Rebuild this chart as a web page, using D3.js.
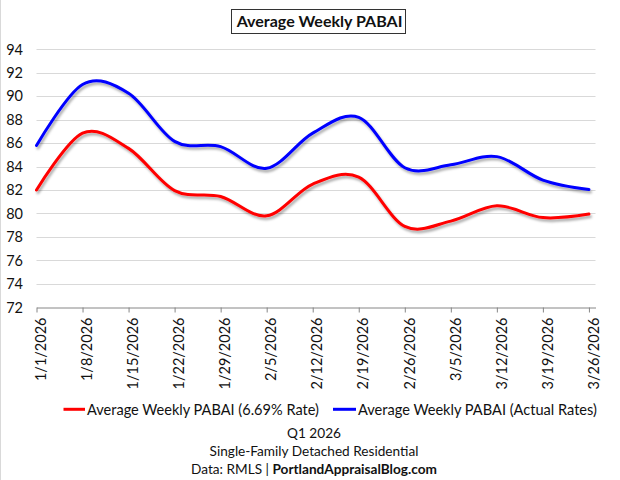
<!DOCTYPE html>
<html>
<head>
<meta charset="utf-8">
<script src="https://cdn.jsdelivr.net/npm/d3@7"></script>
<style>
  html, body { margin: 0; padding: 0; background: #fff; }
  svg { display: block; }
  text { font-family: Lato, "Open Sans", sans-serif; fill: #111; }
</style>
</head>
<body>
<svg id="chart" width="620" height="480"></svg>
<script>
// ---- data ----
const titleText = "Average Weekly PABAI";
const categories = ["1/1/2026","1/8/2026","1/15/2026","1/22/2026","1/29/2026","2/5/2026","2/12/2026","2/19/2026","2/26/2026","3/5/2026","3/12/2026","3/19/2026","3/26/2026"];
const seriesNames = ["Average Weekly PABAI (6.69% Rate)", "Average Weekly PABAI (Actual Rates)"];
const rateValues   = [82.0, 86.85, 85.55, 81.95, 81.45, 79.8, 82.5, 83.1, 78.9, 79.35, 80.65, 79.65, 79.95];
const actualValues = [85.8, 91.0, 90.25, 86.15, 85.7, 83.85, 86.85, 88.2, 83.9, 84.15, 84.85, 82.85, 82.05];
const seriesColors = ["#ff0000", "#0000ff"];
const yTicks = [72,74,76,78,80,82,84,86,88,90,92,94];
const footerLines = ["Q1 2026", "Single-Family Detached Residential"];
const footerData = ["Data: RMLS | ", "PortlandAppraisalBlog.com"];

const parse = d3.timeParse("%m/%d/%Y");
const dates = categories.map(parse);

const svg = d3.select("#chart");

// left frame edge
svg.append("line").attr("x1",0.5).attr("x2",0.5).attr("y1",0).attr("y2",480)
  .attr("stroke","#d9d9d9").attr("stroke-width",1);

const x = d3.scaleTime()
  .domain([parse("1/1/2026"), parse("3/27/2026")])
  .range([36.5, 595.5]);
const y = d3.scaleLinear().domain([72, 94]).range([307.3, 49.3]);

// shadow filter
const defs = svg.append("defs");
const f = defs.append("filter").attr("id","shadow")
  .attr("x","-5%").attr("y","-20%").attr("width","110%").attr("height","140%");
f.append("feDropShadow").attr("dx",1.5).attr("dy",2.5).attr("stdDeviation",1.3)
  .attr("flood-color","#000").attr("flood-opacity",0.33);

// gridlines
svg.append("g").selectAll("line").data(yTicks.filter(t => t !== 72)).join("line")
  .attr("x1", x.range()[0]).attr("x2", x.range()[1])
  .attr("y1", d => Math.round(y(d)) + 0.5).attr("y2", d => Math.round(y(d)) + 0.5)
  .attr("stroke", "#d9d9d9").attr("stroke-width", 1);

// y labels
svg.append("g").selectAll("text").data(yTicks).join("text")
  .attr("x", 23).attr("y", d => y(d)).attr("dy", "0.36em")
  .attr("text-anchor", "end").attr("font-size", 14.5)
  .text(d => d);

// x axis
const xAxis = d3.axisBottom(x).tickValues(dates).tickSize(5).tickSizeOuter(0)
  .tickFormat((d, i) => categories[i]);
const gx = svg.append("g").attr("transform", "translate(0," + (Math.round(y(72)) + 0.5) + ")").call(xAxis);
gx.select(".domain").attr("stroke", "#868686").attr("stroke-width", 1);
gx.selectAll(".tick line").attr("stroke", "#868686");
gx.selectAll(".tick text")
  .attr("font-family", "Lato, 'Open Sans', sans-serif")
  .attr("font-size", 14.5).attr("fill", "#111")
  .attr("text-anchor", "end")
  .attr("transform", "translate(4,0) rotate(-90)")
  .attr("x", -10).attr("y", 0).attr("dy", "0.36em");

// lines
const line = d3.line()
  .x((d, i) => x(dates[i]))
  .y(d => y(d))
  .curve(d3.curveCardinal.tension(0));

[rateValues, actualValues].forEach((vals, k) => {
  svg.append("path").datum(vals)
    .attr("d", line)
    .attr("fill", "none")
    .attr("stroke", seriesColors[k])
    .attr("stroke-width", 3)
    .attr("stroke-linecap", "round")
    .attr("stroke-linejoin", "round")
    .attr("filter", "url(#shadow)");
});

// title with box
const title = svg.append("text").attr("x", 319.5).attr("y", 21).attr("dy", "0.36em")
  .attr("text-anchor", "middle").attr("font-weight", "bold").attr("font-size", 17)
  .text(titleText);
function fit(sel, target) {
  const w = sel.node().getComputedTextLength();
  const fs = parseFloat(sel.attr("font-size"));
  sel.attr("font-size", fs * target / w);
}
fit(title, 166);
svg.append("rect").attr("x", 231.5).attr("y", 9.5).attr("width", 174).attr("height", 24)
  .attr("fill", "none").attr("stroke", "#333").attr("stroke-width", 1);

// legend
const legendItems = [
  {lx1: 63.5, lx2: 85, tx: 87, target: 232},
  {lx1: 333, lx2: 356, tx: 358, target: 239}
];
legendItems.forEach((it, k) => {
  svg.append("line").attr("x1", it.lx1).attr("x2", it.lx2).attr("y1", 409.3).attr("y2", 409.3)
    .attr("stroke", seriesColors[k]).attr("stroke-width", 3);
  const t = svg.append("text").attr("x", it.tx).attr("y", 409.3).attr("dy", "0.36em")
    .attr("font-size", 15).text(seriesNames[k]);
  fit(t, it.target);
});

// footer
const cx = 314;
const f1 = svg.append("text").attr("x", cx).attr("y", 433).attr("dy", "0.36em")
  .attr("text-anchor", "middle").attr("font-size", 14).text(footerLines[0]);
const f2 = svg.append("text").attr("x", cx).attr("y", 450.7).attr("dy", "0.36em")
  .attr("text-anchor", "middle").attr("font-size", 14).text(footerLines[1]);
fit(f2, 209);
const fs = f2.attr("font-size");
f1.attr("font-size", fs);
const f3 = svg.append("text").attr("x", cx).attr("y", 469.3).attr("dy", "0.36em")
  .attr("text-anchor", "middle").attr("font-size", fs);
f3.append("tspan").text(footerData[0]);
f3.append("tspan").attr("font-weight", "bold").text(footerData[1]);
</script>
</body>
</html>
